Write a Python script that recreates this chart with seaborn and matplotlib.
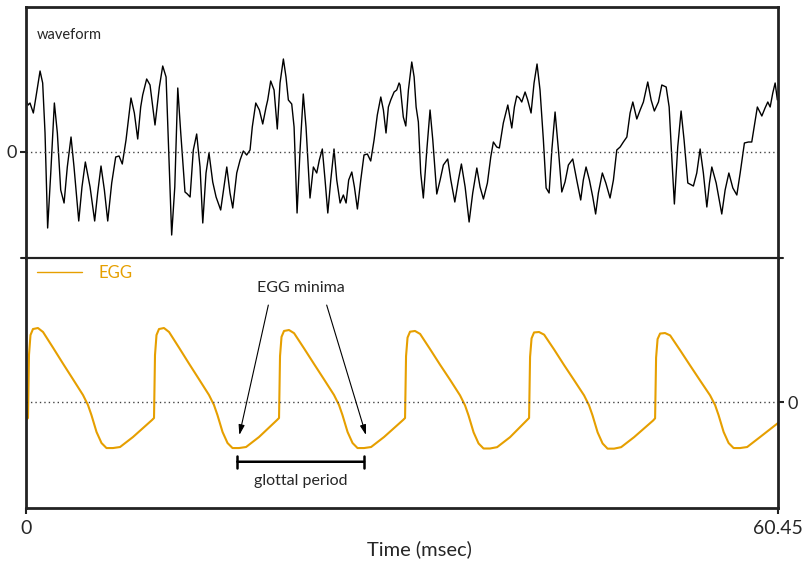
import numpy as np
import pandas as pd
import seaborn as sns
import matplotlib.pyplot as plt
from matplotlib.lines import Line2D

sns.set_theme(style = "white")
plt.rcParams["font.family"] = ["Lato", "DejaVu Sans"]

# waveform (time in msec, arbitrary amplitude)
wave_t = [0.00, 0.18, 0.32, 0.59, 0.80, 1.13, 1.34, 1.53, 1.74, 1.99, 2.28, 2.52, 2.79, 3.06, 3.32,
          3.62, 3.86, 4.24, 4.50, 4.77, 5.15, 5.52, 5.76, 6.03, 6.30, 6.57, 6.89, 7.21, 7.48, 7.74,
          8.04, 8.44, 8.71, 8.98, 9.22, 9.38, 9.70, 9.97, 10.37, 10.72, 10.99, 11.26, 11.44, 11.71,
          11.96, 12.20, 12.44, 12.78, 12.97, 13.19, 13.45, 13.72, 13.99, 14.21, 14.47, 14.71, 15.01,
          15.28, 15.65, 16.14, 16.40, 16.62, 16.94, 17.21, 17.47, 17.74, 18.01, 18.19, 18.47, 18.76,
          19.03, 19.30, 19.43, 19.67, 19.94, 20.20, 20.42, 20.69, 20.90, 21.09, 21.36, 21.55, 21.79,
          22.03, 22.29, 22.51, 22.83, 23.10, 23.37, 23.58, 23.82, 24.04, 24.26, 24.50, 24.76, 24.98,
          25.25, 25.51, 25.73, 25.94, 26.19, 26.40, 26.64, 26.91, 27.17, 27.44, 27.71, 27.98, 28.24,
          28.52, 28.73, 28.94, 29.13, 29.32, 29.59, 29.80, 29.99, 30.07, 30.33, 30.53, 30.74, 31.01,
          31.20, 31.36, 31.54, 31.73, 31.94, 32.22, 32.48, 32.70, 33.02, 33.29, 33.55, 33.90, 34.15,
          34.47, 34.76, 35.00, 35.30, 35.62, 35.91, 36.24, 36.50, 36.77, 37.09, 37.36, 37.57, 37.84,
          38.05, 38.37, 38.73, 39.05, 39.26, 39.45, 39.66, 39.85, 40.12, 40.33, 40.60, 40.84, 41.08,
          41.32, 41.59, 41.81, 42.05, 42.27, 42.53, 42.80, 43.07, 43.33, 43.60, 43.95, 44.27, 44.59,
          44.80, 45.02, 45.29, 45.56, 45.79, 46.01, 46.33, 46.61, 46.95, 47.22, 47.49, 47.76, 48.02,
          48.30, 48.56, 48.78, 49.10, 49.37, 49.63, 49.98, 50.25, 50.51, 50.84, 51.11, 51.46, 51.70,
          51.91, 52.12, 52.39, 52.66, 52.90, 53.20, 53.65, 53.92, 54.19, 54.45, 54.73, 54.94, 55.13,
          55.48, 55.93, 56.20, 56.50, 56.82, 57.14, 57.41, 57.75, 58.07, 58.34, 58.53, 58.79, 59.15,
          59.41, 59.63, 59.82, 60.03, 60.22, 60.40]
wave_v = [0.52, 0.47, 0.49, 0.39, 0.55, 0.81, 0.69, 0.19, -0.76, -0.21, 0.49, 0.19, -0.38, -0.51, -0.15,
          0.15, -0.15, -0.69, -0.35, -0.10, -0.35, -0.69, -0.41, -0.14, -0.38, -0.69, -0.31, -0.05, -0.04, -0.12,
          0.12, 0.54, 0.39, 0.13, 0.45, 0.57, 0.73, 0.67, 0.27, 0.65, 0.86, 0.75, 0.12, -0.83,
          -0.35, 0.64, 0.19, -0.40, -0.42, -0.45, 0.02, 0.18, -0.15, -0.71, -0.21, -0.01, -0.30,
          -0.45, -0.58, -0.15, -0.41, -0.56, -0.21, -0.08, 0.01, -0.03, 0.02, 0.25, 0.49, 0.42,
          0.28, 0.45, 0.52, 0.71, 0.62, 0.23, 0.69, 0.93, 0.75, 0.52, 0.48, 0.25, -0.61,
          0.02, 0.58, 0.25, -0.46, -0.15, -0.21, -0.08, 0.03, -0.28, -0.61, -0.28, 0.03, -0.28,
          -0.51, -0.43, -0.51, -0.28, -0.20, -0.35, -0.57, -0.28, -0.03, -0.02, -0.09, 0.12, 0.37,
          0.55, 0.42, 0.19, 0.45, 0.52, 0.60, 0.62, 0.69, 0.67, 0.35, 0.26, 0.62, 0.90,
          0.75, 0.45, 0.30, -0.21, -0.46, 0.02, 0.42, 0.12, -0.42, -0.28, -0.13, -0.07, -0.28,
          -0.50, -0.28, -0.12, -0.35, -0.70, -0.41, -0.16, -0.35, -0.47, -0.31, -0.05, 0.10, 0.05,
          0.04, 0.29, 0.47, 0.24, 0.45, 0.56, 0.54, 0.50, 0.60, 0.52, 0.39, 0.69, 0.88,
          0.62, 0.12, -0.36, -0.41, 0.02, 0.40, 0.02, -0.40, -0.30, -0.13, -0.07, -0.28, -0.48,
          -0.28, -0.15, -0.28, -0.45, -0.62, -0.41, -0.21, -0.31, -0.46, -0.28, 0.02, 0.05, 0.10,
          0.15, 0.39, 0.50, 0.33, 0.42, 0.50, 0.70, 0.52, 0.41, 0.50, 0.67, 0.65, 0.45,
          -0.05, -0.52, 0.05, 0.41, 0.12, -0.31, -0.34, -0.21, 0.03, -0.21, -0.55, -0.31, -0.15,
          -0.31, -0.62, -0.38, -0.21, -0.36, -0.43, -0.21, 0.09, 0.10, 0.10, 0.25, 0.45, 0.36,
          0.44, 0.50, 0.45, 0.59, 0.69, 0.52]

# EGG signal (time in msec, arbitrary amplitude)
egg_t = [0.00, 0.16, 0.24, 0.36, 0.56, 0.96, 1.37, 2.17, 2.97, 3.78, 4.58, 4.98, 5.26, 5.67, 6.07, 6.47, 6.99, 7.56, 8.60,
         10.13, 10.29, 10.37, 10.49, 10.69, 11.09, 11.50, 12.30, 13.10, 13.91, 14.71, 15.11, 15.39, 15.80, 16.20, 16.60, 17.12, 17.69, 18.73,
         20.18, 20.34, 20.42, 20.54, 20.74, 21.14, 21.55, 22.35, 23.15, 23.96, 24.76, 25.16, 25.44, 25.85, 26.25, 26.65, 27.17, 27.74, 28.78,
         30.31, 30.47, 30.55, 30.67, 30.87, 31.27, 31.68, 32.48, 33.28, 34.09, 34.89, 35.29, 35.57, 35.98, 36.38, 36.78, 37.30, 37.87, 38.91,
         40.28, 40.44, 40.52, 40.64, 40.84, 41.24, 41.65, 42.45, 43.25, 44.06, 44.86, 45.26, 45.54, 45.95, 46.35, 46.75, 47.27, 47.84, 48.88,
         50.41, 50.57, 50.65, 50.77, 50.97, 51.37, 51.78, 52.58, 53.38, 54.19, 54.99, 55.39, 55.67, 56.08, 56.48, 56.88, 57.40, 57.97, 59.01,
         60.45]
egg_v = [-0.243, -0.216, 0.635, 0.905, 0.986, 1.0, 0.946, 0.735, 0.52, 0.307, 0.095, -0.04, -0.176, -0.405, -0.554, -0.622, -0.622, -0.608, -0.473,
         -0.243, -0.216, 0.635, 0.905, 0.986, 1.0, 0.946, 0.735, 0.52, 0.307, 0.095, -0.04, -0.176, -0.405, -0.554, -0.622, -0.622, -0.608, -0.473,
         -0.243, -0.216, 0.62, 0.88, 0.96, 0.973, 0.93, 0.725, 0.515, 0.305, 0.095, -0.04, -0.176, -0.405, -0.554, -0.622, -0.622, -0.608, -0.473,
         -0.243, -0.216, 0.62, 0.87, 0.95, 0.96, 0.92, 0.715, 0.505, 0.30, 0.09, -0.045, -0.18, -0.41, -0.56, -0.628, -0.628, -0.61, -0.475,
         -0.243, -0.216, 0.61, 0.86, 0.94, 0.946, 0.91, 0.71, 0.50, 0.295, 0.09, -0.045, -0.18, -0.41, -0.56, -0.63, -0.63, -0.61, -0.475,
         -0.25, -0.22, 0.60, 0.85, 0.925, 0.932, 0.90, 0.70, 0.495, 0.29, 0.09, -0.04, -0.176, -0.405, -0.554, -0.622, -0.622, -0.608, -0.473,
         -0.284]

t_end = 60.45
minima_t = [17.15, 27.33]
minima_v = -0.446
period_t = [16.99, 27.18]

wave = pd.DataFrame({"t": wave_t, "v": wave_v})
egg = pd.DataFrame({"t": egg_t, "v": egg_v})

fig = plt.figure(figsize = (8.03, 5.65), dpi = 100)
ax1 = fig.add_axes([26 / 803, 1 - 258 / 565, 752 / 803, 251 / 565])
ax2 = fig.add_axes([26 / 803, 1 - 508 / 565, 752 / 803, 250 / 565])

dark = "#222222"
orange = "#E69F00"

# top: waveform
sns.lineplot(data = wave, x = "t", y = "v", ax = ax1, color = "black", linewidth = 1.0, estimator = None)
ax1.axhline(0, color = "#444444", linestyle = (0, (1, 2.2)), linewidth = 1.0)
ax1.set_xlim(0, t_end)
ax1.set_ylim(-1.06, 1.45)
ax1.set_xticks([])
ax1.set_yticks([0])
ax1.set_yticklabels(["0"])
ax1.set_xlabel("")
ax1.set_ylabel("")
ax1.tick_params(axis = "y", left = True, length = 4.5, width = 1.5, color = dark, labelsize = 13, pad = 2)
for s in ["top", "left", "right"]:
    ax1.spines[s].set_linewidth(2)
    ax1.spines[s].set_color(dark)
ax1.spines["bottom"].set_visible(False)
ax1.text(11 / 752, 0.888, "waveform", transform = ax1.transAxes, fontsize = 10.5, va = "center", ha = "left")

# bottom: EGG
sns.lineplot(data = egg, x = "t", y = "v", ax = ax2, color = orange, linewidth = 1.5, estimator = None, label = "EGG")
ax2.axhline(0, color = "#444444", linestyle = (0, (1, 2.2)), linewidth = 1.0)
ax2.set_xlim(0, t_end)
ax2.set_ylim(-1.432, 1.946)
ax2.yaxis.tick_right()
ax2.set_yticks([0])
ax2.set_yticklabels(["0"])
ax2.set_xticks([0, t_end])
ax2.set_xticklabels(["0", "60.45"])
ax2.set_ylabel("")
ax2.tick_params(axis = "y", right = True, length = 4.5, width = 1.5, color = dark, labelsize = 13, pad = 2)
ax2.tick_params(axis = "x", bottom = True, length = 4.5, width = 1.5, color = dark, labelsize = 14, pad = 4)
for s in ["bottom", "left", "right"]:
    ax2.spines[s].set_linewidth(2)
    ax2.spines[s].set_color(dark)
ax2.spines["top"].set_linewidth(1.5)
ax2.spines["top"].set_color(dark)
ax2.set_xlabel("Time (msec)", fontsize = 14.5)
ax2.xaxis.set_label_coords(0.523, -0.13)

leg = ax2.legend(loc = "center left", bbox_to_anchor = (11 / 752, 0.94), frameon = False,
                 fontsize = 12, handlelength = 2.7, handletextpad = 1.0, borderpad = 0, borderaxespad = 0)
for txt in leg.get_texts():
    txt.set_color(orange)
for h in leg.get_lines():
    h.set_linewidth(1.0)

# annotations
ax2.text(22.09, 1.54, "EGG minima", fontsize = 11.5, ha = "center", va = "center")
ax2.annotate("", xy = (minima_t[0], minima_v), xytext = (19.48, 1.31),
             arrowprops = dict(arrowstyle = "-|>,head_length=0.5,head_width=0.15", color = "black", lw = 0.8,
                               shrinkA = 0, shrinkB = 0))
ax2.annotate("", xy = (minima_t[1], minima_v), xytext = (24.17, 1.31),
             arrowprops = dict(arrowstyle = "-|>,head_length=0.5,head_width=0.15", color = "black", lw = 0.8,
                               shrinkA = 0, shrinkB = 0))
ax2.annotate("", xy = (period_t[0], -0.807), xytext = (period_t[1], -0.807),
             arrowprops = dict(arrowstyle = "|-|,widthA=0.35,widthB=0.35", color = "black", lw = 1.8,
                               shrinkA = 0, shrinkB = 0))
ax2.text(sum(period_t) / 2, -1.07, "glottal period", fontsize = 11.5, ha = "center", va = "center")

# little overhang of the separating line
fig.add_artist(Line2D([20.7 / 803, 783 / 803], [1 - 258 / 565, 1 - 258 / 565], color = dark, lw = 1.5))

fig.savefig("out.png", dpi = 100)
